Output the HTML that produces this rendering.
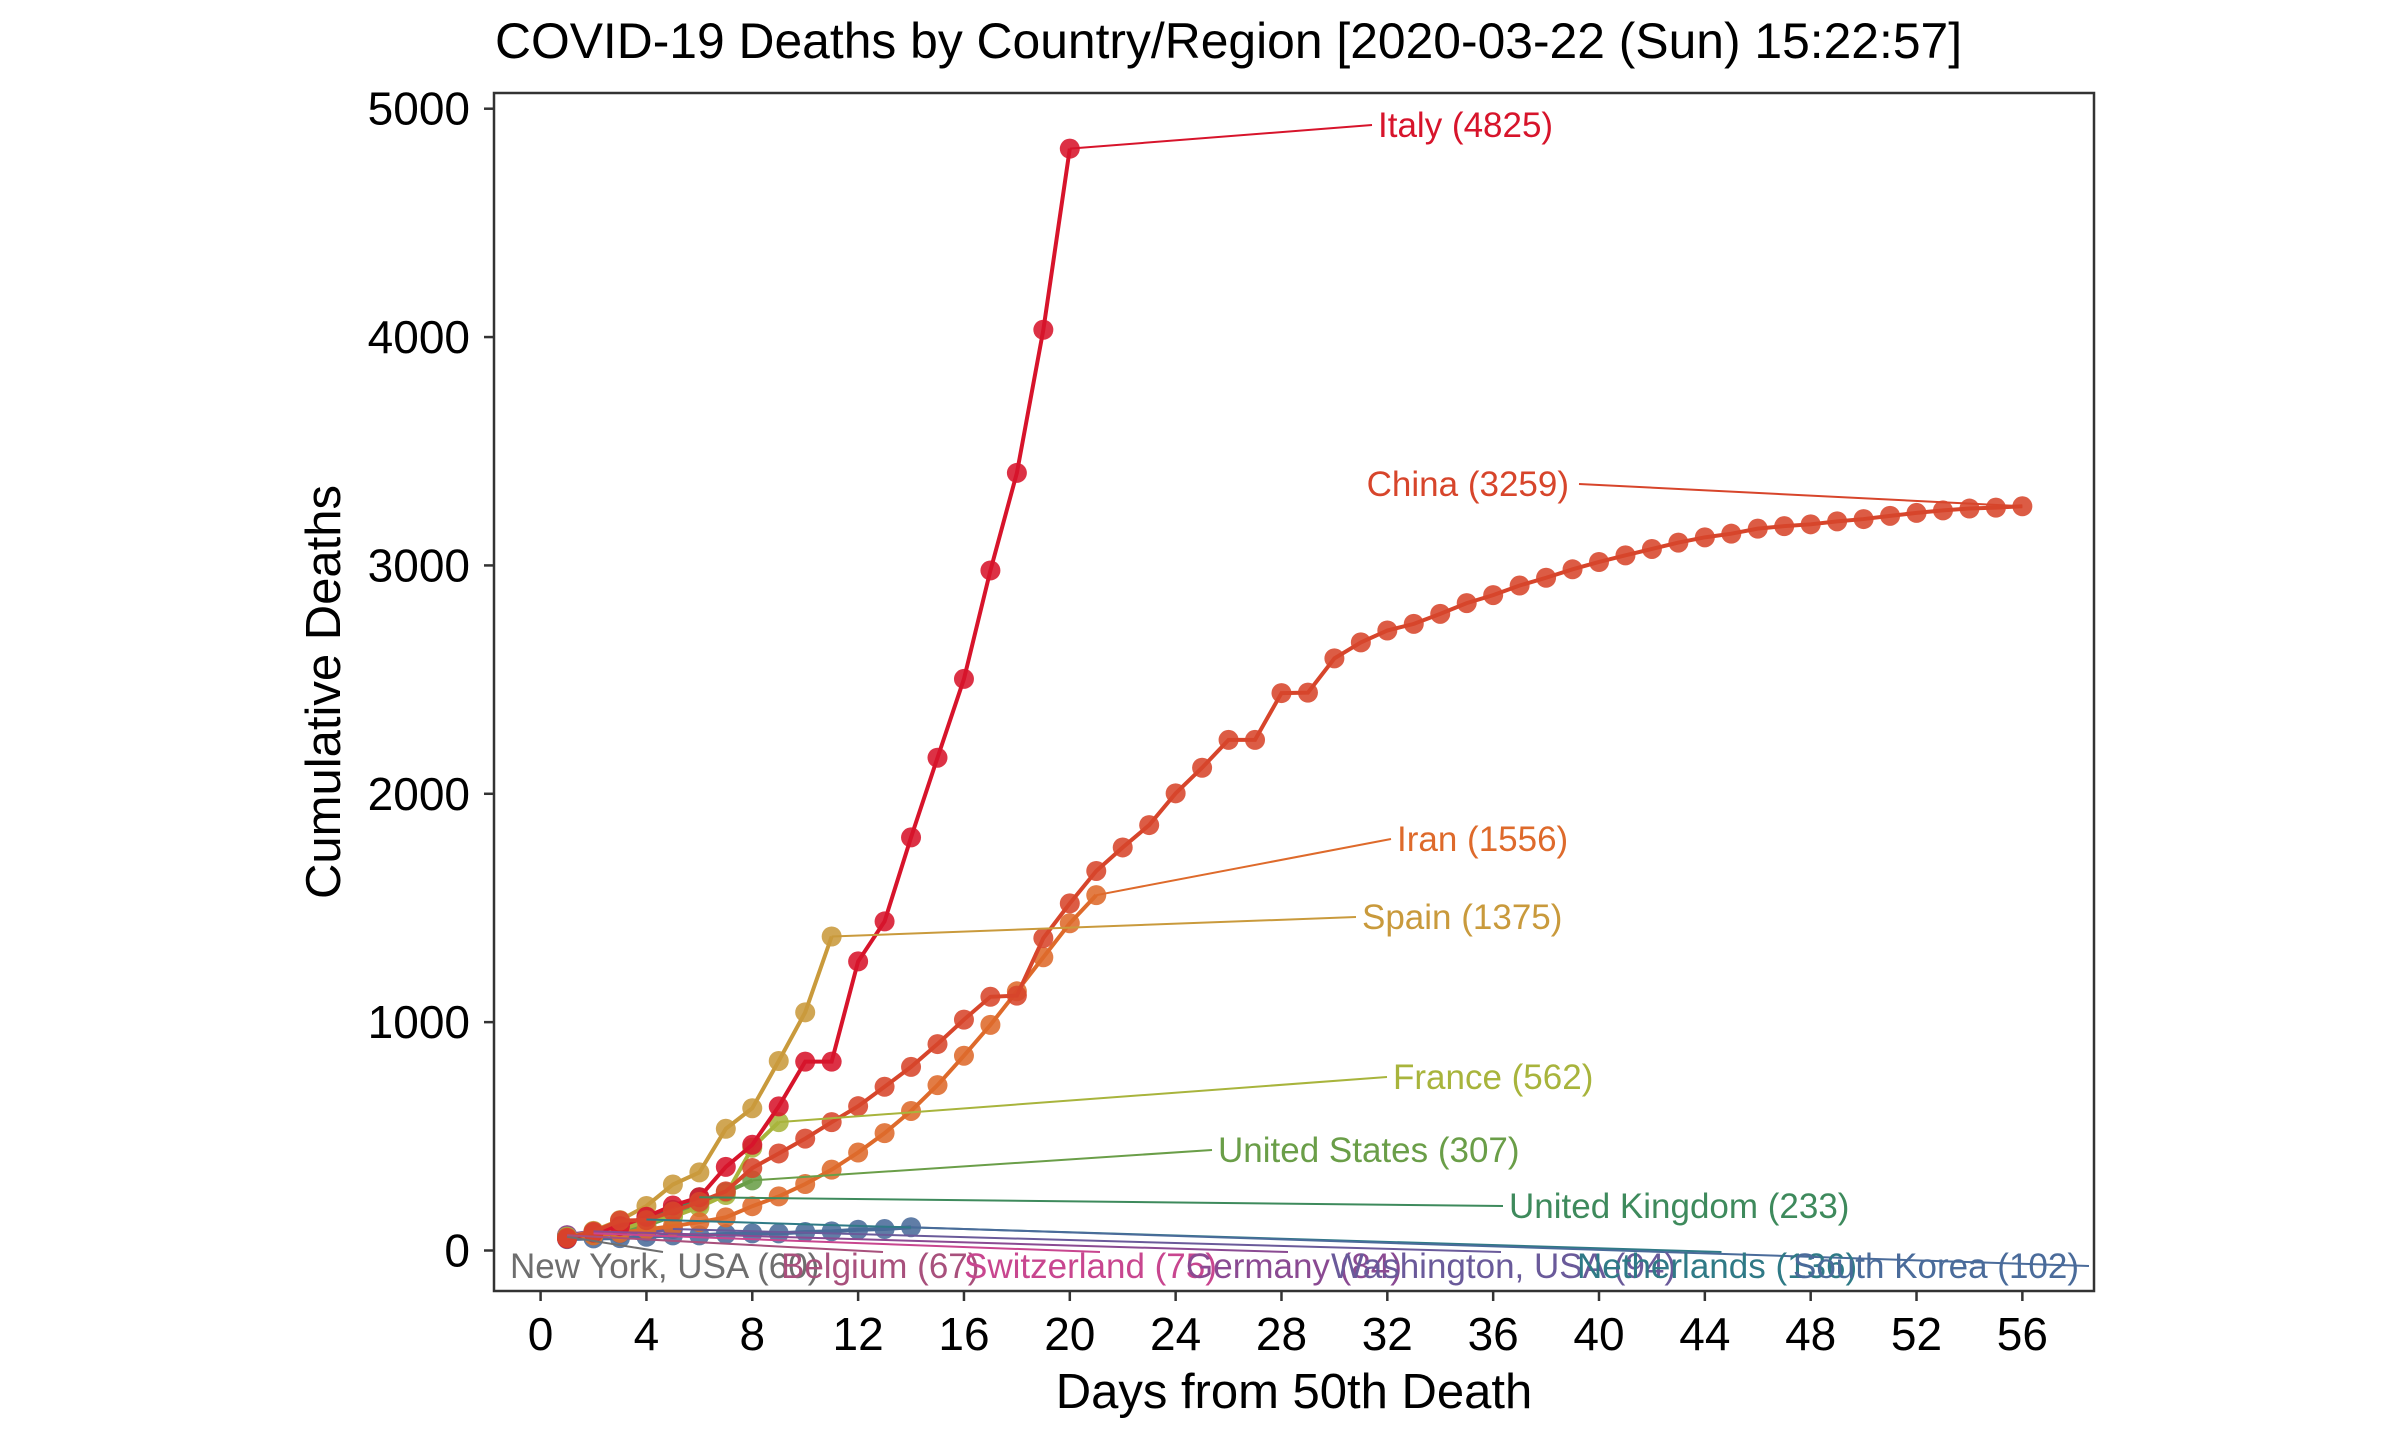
<!DOCTYPE html>
<html><head><meta charset="utf-8"><style>
html,body{margin:0;padding:0;background:#fff;}
svg{display:block;font-family:"Liberation Sans",Arial,sans-serif;}
</style></head><body>
<svg id="chart" width="2400" height="1440" viewBox="0 0 2400 1440" xmlns="http://www.w3.org/2000/svg">
<text x="495" y="58" font-size="49.8" fill="#000">COVID-19 Deaths by Country/Region [2020-03-22 (Sun) 15:22:57]</text>
<rect x="494" y="93" width="1600" height="1198" fill="none" stroke="#333" stroke-width="2.5"/>
<g id="axes"></g>
<g id="series"></g>
<g id="labels"></g>
<text x="1294" y="1408" font-size="49" text-anchor="middle" fill="#000">Days from 50th Death</text>
<text x="340" y="692" font-size="49" text-anchor="middle" fill="#000" transform="rotate(-90 340 692)">Cumulative Deaths</text>
</svg>
<script>
const xTicks = [0,4,8,12,16,20,24,28,32,36,40,44,48,52,56];
const yTicks = [0,1000,2000,3000,4000,5000];
const names = ["China","Italy","Iran","Spain","France","United States","United Kingdom","South Korea","Netherlands","Washington, USA","Germany","Switzerland","Belgium","New York, USA"];
const italy = [52,79,107,148,197,233,366,463,631,827,827,1266,1441,1809,2158,2503,2978,3405,4032,4825];
const china = [56,82,131,133,171,213,259,361,425,490,562,632,717,804,904,1011,1111,1116,1368,1520,1662,1765,1863,2002,2114,2236,2236,2441,2443,2593,2663,2715,2744,2788,2835,2870,2912,2946,2983,3015,3044,3072,3100,3123,3139,3161,3172,3180,3193,3203,3217,3230,3241,3249,3253,3259];
const iran = [54,66,77,92,107,124,145,194,237,291,354,429,514,611,724,853,988,1135,1284,1433,1556];
const spain = [55,86,133,195,289,342,533,623,830,1043,1375];
const france = [61,79,91,127,148,190,243,450,562];
const usa = [57,69,87,110,150,206,255,307];
const uk = [56,72,104,144,178,233];
const korea = [50,53,54,60,66,66,72,75,75,81,84,91,94,102];
const netherlands = [58,76,106,136];
const washington = [56,68,74,83,94];
const germany = [67,84];
const switzerland = [56,75];
const belgium = [67];
const newyork = [60];
const seriesValues = [china,italy,iran,spain,france,usa,uk,korea,netherlands,washington,germany,switzerland,belgium,newyork];
const colors = ["#d7452b","#d7142b","#de6a2b","#c99a3c","#a8b43c","#6a9e48","#3e8a5c","#4a6b9a","#2f7a86","#6a5a9a","#8a4a92","#c8468f","#a8507c","#6e6e6e"];
// label anchor: [x, y, anchor, bottomRow]
const labelPos = [[1569,496,"end",0],[1378,137,"start",0],[1397,851,"start",0],[1362,929,"start",0],[1393,1089,"start",0],[1218,1162,"start",0],[1509,1218,"start",0],[2079,1278,"end",0],[1577,1278,"start",1],[1331,1278,"start",1],[1186,1278,"start",1],[964,1278,"start",1],[781,1278,"start",1],[510,1278,"start",1]];
const NS="http://www.w3.org/2000/svg";
function xs(d){return 540.6+d*26.46;}
function ys(v){return 1250.5-v*0.22836;}
const axes=document.getElementById('axes');
xTicks.forEach(t=>{
  const l=document.createElementNS(NS,'line');
  l.setAttribute('x1',xs(t));l.setAttribute('x2',xs(t));l.setAttribute('y1',1291);l.setAttribute('y2',1301);
  l.setAttribute('stroke','#333');l.setAttribute('stroke-width','2.5');
  
  
  axes.appendChild(l);
  const tx=document.createElementNS(NS,'text');
  tx.setAttribute('x',xs(t));tx.setAttribute('y',1350);tx.setAttribute('font-size','46');tx.setAttribute('text-anchor','middle');
  tx.textContent=t;
  
  
  axes.appendChild(tx);
});
yTicks.forEach(t=>{
  const l=document.createElementNS(NS,'line');
  l.setAttribute('x1',484);l.setAttribute('x2',494);l.setAttribute('y1',ys(t));l.setAttribute('y2',ys(t));
  l.setAttribute('stroke','#333');l.setAttribute('stroke-width','2.5');
  
  
  axes.appendChild(l);
  const tx=document.createElementNS(NS,'text');
  tx.setAttribute('x',470);tx.setAttribute('y',ys(t)+16);tx.setAttribute('font-size','46');tx.setAttribute('text-anchor','end');
  tx.textContent=t;
  
  
  axes.appendChild(tx);
});
const sg=document.getElementById('series'), lg=document.getElementById('labels');
const texts=[];
for(let i=seriesValues.length-1;i>=0;i--){
  const vals=seriesValues[i], lp=labelPos[i];
  const tx=document.createElementNS(NS,'text');
  tx.setAttribute('x',lp[0]);tx.setAttribute('y',lp[1]);tx.setAttribute('font-size','35');tx.setAttribute('text-anchor',lp[2]);tx.setAttribute('fill',colors[i]);
  tx.textContent=names[i]+' ('+vals[vals.length-1]+')';
  
  
  texts[i]=tx;
}
for(let i=seriesValues.length-1;i>=0;i--){
  const vals=seriesValues[i], c=colors[i];
  const g=document.createElementNS(NS,'g');
  
  
  const pts=vals.map((v,k)=>xs(k+1)+','+ys(v)).join(' ');
  const pl=document.createElementNS(NS,'polyline');
  pl.setAttribute('points',pts);pl.setAttribute('fill','none');pl.setAttribute('stroke',c);pl.setAttribute('stroke-width','4');
  
  
  g.appendChild(pl);
  vals.forEach((v,k)=>{
    const ci=document.createElementNS(NS,'circle');
    ci.setAttribute('cx',xs(k+1));ci.setAttribute('cy',ys(v));ci.setAttribute('r','10');ci.setAttribute('fill',c);ci.setAttribute('fill-opacity','0.88');
    
    
    g.appendChild(ci);
  });
  sg.appendChild(g);
  const lp=labelPos[i], lx=xs(vals.length), ly=ys(vals[vals.length-1]);
  let ex, ey;
  if(lp[3]){ const w=(texts[i].textContent.length)*17; ex=lp[0]+w/2; ey=lp[1]-26; }
  else { ex = lp[2]==="end" ? lp[0]+10 : lp[0]-6; ey = lp[1]-12; }
  const seg=document.createElementNS(NS,'line');
  seg.setAttribute('x1',lx);seg.setAttribute('y1',ly);seg.setAttribute('x2',ex);seg.setAttribute('y2',ey);
  seg.setAttribute('stroke',c);seg.setAttribute('stroke-width','2');
  
  
  lg.appendChild(seg);
}
for(let i=seriesValues.length-1;i>=0;i--){ lg.appendChild(texts[i]); }
</script>
</body></html>
